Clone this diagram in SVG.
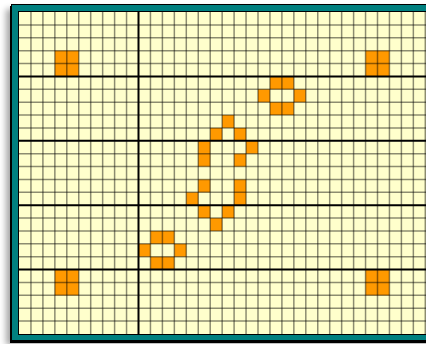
<svg xmlns="http://www.w3.org/2000/svg" width="426" height="344" viewBox="0 0 426 344">
  <defs>
    <filter id="blur" x="-10%" y="-10%" width="120%" height="120%">
      <feGaussianBlur stdDeviation="3"/>
    </filter>
    <style>
      .cell { fill: #FF9900; }
      .thin { stroke: #000; stroke-opacity: 0.45; stroke-width: 1.5; fill: none; }
      .thick { stroke: #000; stroke-width: 2; fill: none; }
    </style>
  </defs>
  <rect width="426" height="344" fill="#ffffff"/>
  <g id="frame">
    <rect x="6" y="9" width="432" height="336" fill="#000" opacity="0.35" filter="url(#blur)"/>
    <rect x="10" y="6" width="432" height="337" fill="#000"/>
    <rect x="11.5" y="4.5" width="430" height="336" fill="#008080" stroke="#000" stroke-width="1"/>
    <rect x="18.5" y="11.5" width="420" height="323" fill="#FFFFCC" stroke="#000" stroke-width="1"/>
  </g>
  <g id="cells" transform="translate(19,12) scale(11.95,12.88)">
    <rect class="cell" x="3" y="3" width="2" height="2"/>
    <rect class="cell" x="29" y="3" width="2" height="2"/>
    <rect class="cell" x="3" y="20" width="2" height="2"/>
    <rect class="cell" x="29" y="20" width="2" height="2"/>
    <rect class="cell" x="21" y="5" width="2" height="1"/>
    <rect class="cell" x="20" y="6" width="1" height="1"/>
    <rect class="cell" x="23" y="6" width="1" height="1"/>
    <rect class="cell" x="21" y="7" width="2" height="1"/>
    <rect class="cell" x="17" y="8" width="1" height="1"/>
    <rect class="cell" x="16" y="9" width="1" height="1"/>
    <rect class="cell" x="18" y="9" width="1" height="1"/>
    <rect class="cell" x="15" y="10" width="1" height="2"/>
    <rect class="cell" x="19" y="10" width="1" height="1"/>
    <rect class="cell" x="18" y="11" width="1" height="1"/>
    <rect class="cell" x="15" y="13" width="1" height="1"/>
    <rect class="cell" x="18" y="13" width="1" height="2"/>
    <rect class="cell" x="14" y="14" width="1" height="1"/>
    <rect class="cell" x="15" y="15" width="1" height="1"/>
    <rect class="cell" x="17" y="15" width="1" height="1"/>
    <rect class="cell" x="16" y="16" width="1" height="1"/>
    <rect class="cell" x="11" y="17" width="2" height="1"/>
    <rect class="cell" x="10" y="18" width="1" height="1"/>
    <rect class="cell" x="13" y="18" width="1" height="1"/>
    <rect class="cell" x="11" y="19" width="2" height="1"/>
  </g>
  <g id="grid" transform="translate(19,12) scale(11.95,12.88)">
    <path class="thin" vector-effect="non-scaling-stroke" d="M1 0V25M2 0V25M3 0V25M4 0V25M5 0V25M6 0V25M7 0V25M8 0V25M9 0V25M11 0V25M12 0V25M13 0V25M14 0V25M15 0V25M16 0V25M17 0V25M18 0V25M19 0V25M20 0V25M21 0V25M22 0V25M23 0V25M24 0V25M25 0V25M26 0V25M27 0V25M28 0V25M29 0V25M30 0V25M31 0V25M32 0V25M33 0V25M34 0V25M35 0V25"/>
    <path class="thin" vector-effect="non-scaling-stroke" d="M0 1H36M0 2H36M0 3H36M0 4H36M0 6H36M0 7H36M0 8H36M0 9H36M0 11H36M0 12H36M0 13H36M0 14H36M0 16H36M0 17H36M0 18H36M0 19H36M0 21H36M0 22H36M0 23H36M0 24H36"/>
    <path class="thick" vector-effect="non-scaling-stroke" d="M10 0V25M0 5H36M0 10H36M0 15H36M0 20H36"/>
  </g>
</svg>
